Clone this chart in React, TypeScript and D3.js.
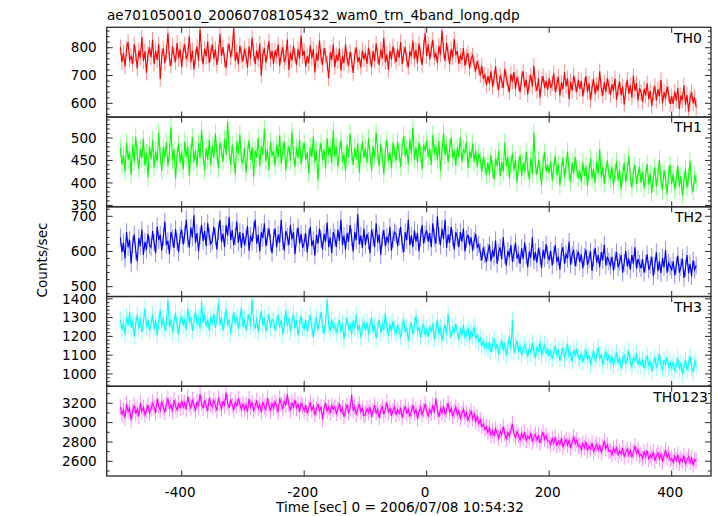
import React from "react";
import * as d3 from "d3";

const TITLE = "ae701050010_20060708105432_wam0_trn_4band_long.qdp";
const X_LABEL = "Time [sec] 0 = 2006/07/08 10:54:32";
const Y_LABEL = "Counts/sec";
const T_START = -500;
const T_STEP = 2.5;
const X_DOMAIN = [-522.4, 464.2];
const X_TICKS = [-400, -200, 0, 200, 400];

const BANDS = ["TH0", "TH1", "TH2", "TH3", "TH0123"];

const TH0 = [
  802, 748, 781, 733, 795, 820, 757, 769, 741, 812, 778, 725, 790, 764, 838, 752, 787, 710, 776, 801,
  765, 829, 742, 790, 756, 812, 688, 771, 797, 745, 783, 852, 760, 734, 805, 772, 749, 818, 761, 795,
  730, 787, 812, 759, 776, 841, 748, 790, 722, 768, 804, 753, 866, 781, 740, 796, 769, 823, 745, 778,
  812, 761, 795, 738, 779, 849, 770, 802, 756, 727, 789, 814, 765, 798, 871, 752, 784, 740, 808, 775,
  751, 796, 770, 728, 805, 762, 836, 779, 741, 790, 757, 815, 700, 774, 798, 746, 782, 823, 760, 789,
  742, 790, 768, 812, 735, 776, 801, 748, 765, 829, 720, 782, 754, 806, 770, 738, 795, 760, 843, 771,
  788, 732, 770, 745, 809, 762, 795, 711, 780, 753, 826, 767, 738, 799, 772, 745, 690, 783, 757, 812,
  730, 774, 752, 798, 718, 769, 745, 812, 760, 736, 785, 755, 709, 772, 801, 748, 766, 729, 790, 758,
  781, 742, 800, 765, 729, 788, 752, 815, 770, 738, 794, 761, 836, 748, 776, 720, 789, 758, 805, 772,
  748, 795, 763, 820, 741, 778, 802, 755, 730, 787, 768, 826, 759, 792, 744, 815, 775, 738, 800, 852,
  770, 812, 758, 795, 828, 763, 781, 745, 807, 776, 862, 790, 752, 818, 779, 740, 796, 765, 831, 774,
  788, 742, 771, 756, 799, 735, 766, 780, 725, 758, 772, 740, 715, 752, 728, 700, 735, 688, 702, 665,
  698, 672, 715, 660, 690, 733, 675, 648, 701, 682, 655, 724, 690, 668, 640, 705, 678, 712, 652, 694,
  671, 640, 690, 715, 658, 685, 632, 676, 702, 660, 735, 668, 645, 690, 620, 672, 698, 655, 681, 648,
  690, 655, 672, 708, 640, 668, 695, 628, 675, 650, 712, 662, 690, 615, 678, 645, 700, 668, 640, 685,
  652, 680, 625, 665, 698, 640, 672, 610, 658, 688, 634, 667, 645, 715, 655, 628, 676, 640, 690, 660,
  630, 668, 645, 690, 612, 652, 678, 628, 660, 595, 648, 685, 635, 665, 620, 700, 645, 672, 610, 655,
  640, 605, 652, 628, 672, 615, 645, 590, 638, 662, 610, 650, 625, 685, 600, 640, 618, 660, 632, 598,
  625, 598, 642, 610, 655, 580, 628, 612, 665, 595, 630, 570, 618, 640, 600, 622, 585,
];

const TH1 = [
  478, 441, 462, 425, 490, 452, 470, 418, 485, 447, 503, 462, 431, 476, 455, 498, 439, 466, 412, 482,
  452, 495, 433, 470, 448, 512, 461, 427, 480, 456, 491, 438, 468, 524, 450, 475, 409, 463, 488, 445,
  470, 430, 492, 458, 481, 415, 466, 502, 447, 473, 436, 489, 455, 518, 462, 428, 477, 451, 496, 440,
  483, 456, 510, 468, 432, 489, 474, 447, 498, 462, 537, 471, 440, 485, 458, 420, 492, 465, 508, 452,
  445, 478, 422, 466, 495, 451, 480, 414, 472, 456, 500, 437, 482, 463, 520, 448, 475, 429, 491, 460,
  472, 438, 485, 456, 506, 443, 470, 492, 428, 465, 481, 449, 515, 462, 436, 478, 455, 497, 441, 469,
  490, 452, 467, 421, 480, 458, 503, 446, 472, 405, 468, 489, 451, 475, 432, 499, 463, 480, 444, 517,
  458, 481, 436, 470, 495, 447, 463, 426, 485, 458, 510, 469, 440, 478, 452, 488, 423, 466, 492, 455,
  478, 445, 499, 463, 428, 482, 455, 512, 470, 437, 486, 459, 420, 473, 496, 448, 468, 432, 490, 466,
  450, 492, 468, 436, 481, 505, 459, 477, 441, 498, 465, 523, 452, 479, 445, 490, 467, 430, 486, 471,
  495, 458, 476, 440, 507, 466, 482, 450, 493, 427, 470, 512, 461, 485, 446, 477, 500, 455, 472, 438,
  480, 458, 501, 447, 475, 466, 492, 433, 470, 455, 488, 447, 472, 436, 465, 452, 425, 458, 440, 418,
  445, 420, 462, 430, 408, 455, 438, 472, 415, 447, 425, 490, 436, 458, 410, 442, 466, 428, 452, 402,
  438, 462, 415, 445, 426, 470, 432, 408, 455, 420, 512, 440, 418, 452, 430, 395, 446, 468, 425, 440,
  422, 448, 405, 435, 460, 418, 442, 395, 430, 456, 412, 438, 470, 425, 402, 445, 420, 458, 432, 410,
  428, 402, 446, 415, 438, 392, 425, 455, 410, 432, 400, 448, 420, 475, 412, 436, 398, 428, 450, 418,
  410, 436, 395, 422, 448, 405, 430, 385, 418, 445, 402, 428, 460, 412, 390, 425, 440, 398, 420, 435,
  400, 425, 388, 415, 442, 396, 420, 378, 412, 435, 392, 418, 452, 405, 385, 428, 410, 375, 420, 440,
  398, 420, 385, 410, 438, 392, 415, 372, 405, 430, 390, 412, 448, 395, 380, 418, 402,
];

const TH2 = [
  640, 598, 625, 580, 655, 612, 633, 566, 620, 648, 601, 572, 638, 615, 662, 590, 627, 605, 650, 618,
  612, 658, 625, 595, 671, 632, 648, 603, 640, 685, 618, 630, 592, 655, 637, 610, 664, 628, 598, 645,
  662, 620, 648, 690, 635, 612, 668, 640, 703, 625, 652, 600, 645, 676, 630, 658, 615, 681, 642, 622,
  630, 670, 642, 605, 658, 690, 628, 650, 612, 675, 645, 698, 632, 660, 618, 642, 685, 625, 655, 610,
  652, 618, 640, 672, 602, 645, 628, 660, 690, 622, 648, 600, 655, 638, 680, 615, 642, 665, 625, 595,
  640, 665, 612, 648, 625, 690, 630, 602, 658, 642, 618, 675, 635, 655, 592, 640, 668, 622, 650, 610,
  625, 652, 598, 640, 670, 615, 632, 588, 648, 622, 665, 635, 605, 650, 628, 682, 612, 640, 595, 655,
  640, 612, 662, 630, 690, 618, 645, 605, 652, 628, 675, 640, 600, 655, 632, 706, 620, 645, 610, 665,
  618, 650, 630, 595, 662, 640, 612, 680, 625, 648, 590, 638, 660, 615, 642, 625, 670, 602, 635, 655,
  650, 615, 642, 670, 620, 598, 655, 632, 690, 618, 645, 612, 660, 628, 652, 600, 640, 675, 622, 648,
  660, 628, 652, 612, 680, 640, 622, 700, 645, 618, 665, 635, 690, 610, 648, 625, 670, 638, 605, 655,
  640, 612, 655, 628, 665, 600, 635, 648, 618, 640, 602, 630, 650, 612, 620, 598, 575, 612, 590, 570,
  598, 620, 572, 605, 585, 632, 565, 598, 612, 578, 640, 590, 560, 602, 585, 618, 570, 595, 625, 580,
  592, 565, 610, 578, 625, 590, 555, 600, 582, 640, 575, 598, 568, 610, 588, 552, 605, 580, 620, 590,
  575, 602, 560, 590, 618, 570, 585, 548, 598, 612, 565, 592, 580, 628, 562, 590, 605, 558, 582, 600,
  570, 592, 552, 585, 605, 562, 578, 600, 545, 582, 610, 568, 590, 555, 598, 575, 620, 560, 585, 572,
  560, 585, 545, 575, 598, 555, 570, 590, 540, 568, 602, 558, 580, 548, 590, 565, 612, 552, 578, 565,
  552, 578, 540, 565, 592, 548, 562, 585, 530, 560, 598, 545, 572, 538, 582, 555, 604, 540, 568, 558,
  548, 572, 532, 560, 588, 540, 556, 580, 525, 552, 590, 538, 565, 530, 575, 548, 560,
];

const TH3 = [
  1290, 1235, 1272, 1210, 1305, 1258, 1330, 1245, 1282, 1198, 1265, 1318, 1240, 1296, 1222, 1275, 1350, 1250, 1288, 1228,
  1262, 1315, 1238, 1290, 1205, 1278, 1340, 1255, 1300, 1230, 1268, 1395, 1248, 1292, 1220, 1275, 1325, 1260, 1212, 1285,
  1310, 1258, 1292, 1235, 1350, 1275, 1302, 1228, 1280, 1335, 1262, 1298, 1240, 1385, 1270, 1315, 1250, 1290, 1232, 1305,
  1268, 1320, 1245, 1296, 1380, 1262, 1300, 1230, 1285, 1345, 1258, 1292, 1215, 1278, 1330, 1265, 1305, 1240, 1288, 1355,
  1250, 1295, 1232, 1278, 1320, 1255, 1395, 1268, 1240, 1302, 1222, 1285, 1335, 1260, 1298, 1228, 1276, 1318, 1245, 1290,
  1285, 1230, 1272, 1315, 1248, 1290, 1210, 1265, 1340, 1255, 1298, 1225, 1275, 1320, 1242, 1288, 1205, 1262, 1310, 1250,
  1240, 1288, 1225, 1270, 1312, 1248, 1195, 1265, 1300, 1235, 1282, 1330, 1255, 1215, 1275, 1395, 1260, 1230, 1292, 1245,
  1262, 1218, 1255, 1290, 1225, 1270, 1185, 1248, 1302, 1235, 1268, 1210, 1285, 1242, 1318, 1230, 1260, 1195, 1252, 1275,
  1230, 1275, 1212, 1258, 1300, 1225, 1262, 1190, 1245, 1290, 1218, 1270, 1235, 1325, 1248, 1205, 1265, 1228, 1280, 1240,
  1215, 1262, 1228, 1195, 1255, 1290, 1220, 1248, 1175, 1238, 1275, 1210, 1258, 1312, 1225, 1250, 1195, 1242, 1268, 1205,
  1240, 1198, 1255, 1222, 1270, 1185, 1232, 1290, 1210, 1248, 1175, 1228, 1262, 1205, 1318, 1235, 1195, 1250, 1220, 1265,
  1225, 1182, 1240, 1205, 1262, 1190, 1218, 1245, 1175, 1230, 1200, 1255, 1185, 1212, 1168, 1195, 1150, 1178, 1140, 1160,
  1135, 1172, 1118, 1155, 1190, 1128, 1160, 1105, 1148, 1182, 1125, 1165, 1098, 1140, 1205, 1130, 1290, 1112, 1150, 1178,
  1118, 1152, 1100, 1135, 1155, 1125, 1092, 1140, 1110, 1168, 1122, 1085, 1145, 1115, 1172, 1098, 1130, 1160, 1105, 1138,
  1092, 1125, 1080, 1115, 1148, 1098, 1130, 1070, 1108, 1140, 1085, 1120, 1160, 1095, 1112, 1065, 1128, 1100, 1135, 1088,
  1078, 1110, 1062, 1095, 1130, 1075, 1102, 1050, 1088, 1125, 1068, 1098, 1140, 1080, 1105, 1045, 1092, 1120, 1070, 1100,
  1060, 1095, 1045, 1080, 1115, 1055, 1088, 1030, 1072, 1105, 1050, 1082, 1125, 1062, 1040, 1090, 1070, 1108, 1048, 1078,
  1045, 1078, 1028, 1062, 1098, 1040, 1070, 1012, 1055, 1088, 1035, 1065, 1110, 1048, 1022, 1075, 1052, 1090, 1030, 1060,
  1032, 1065, 1015, 1050, 1085, 1025, 1058, 1000, 1042, 1075, 1020, 1052, 1095, 1035, 1010, 1062, 1040,
];

const TH0123 = [
  3160, 3085, 3132, 3050, 3195, 3110, 3148, 3025, 3120, 3178, 3092, 3140, 3062, 3205, 3115, 3158, 3080, 3128, 3182, 3100,
  3140, 3210, 3155, 3098, 3245, 3170, 3128, 3220, 3160, 3105, 3192, 3250, 3140, 3185, 3115, 3235, 3172, 3130, 3205, 3150,
  3225, 3160, 3205, 3138, 3270, 3190, 3152, 3240, 3185, 3120, 3218, 3165, 3295, 3200, 3148, 3232, 3175, 3120, 3255, 3190,
  3165, 3230, 3178, 3125, 3260, 3195, 3145, 3222, 3170, 3310, 3205, 3150, 3240, 3180, 3128, 3218, 3168, 3250, 3190, 3140,
  3200, 3135, 3182, 3110, 3245, 3160, 3205, 3125, 3170, 3230, 3145, 3188, 3102, 3215, 3165, 3132, 3255, 3175, 3120, 3198,
  3150, 3215, 3168, 3110, 3255, 3190, 3140, 3228, 3175, 3295, 3180, 3125, 3210, 3160, 3235, 3145, 3195, 3110, 3200, 3170,
  3120, 3182, 3095, 3150, 3210, 3130, 3172, 3078, 3140, 3195, 3115, 3165, 3030, 3152, 3205, 3118, 3160, 3098, 3178, 3135,
  3165, 3095, 3140, 3200, 3112, 3155, 3060, 3130, 3185, 3105, 3145, 3290, 3120, 3168, 3085, 3142, 3195, 3110, 3150, 3072,
  3090, 3145, 3105, 3160, 3060, 3125, 3180, 3098, 3140, 3050, 3118, 3172, 3085, 3135, 3210, 3102, 3148, 3070, 3125, 3165,
  3080, 3135, 3095, 3155, 3050, 3118, 3170, 3090, 3140, 3062, 3115, 3180, 3098, 3135, 3040, 3110, 3160, 3085, 3128, 3195,
  3120, 3070, 3135, 3095, 3180, 3105, 3250, 3125, 3060, 3145, 3098, 3170, 3082, 3130, 3205, 3100, 3148, 3065, 3118, 3160,
  3080, 3120, 3045, 3095, 3140, 3060, 3102, 3025, 3075, 3118, 3040, 3088, 3010, 3060, 2990, 3030, 2960, 2985, 2930, 2955,
  2900, 2945, 2870, 2915, 2860, 2935, 2890, 2840, 2910, 2875, 2960, 2885, 2830, 2900, 2862, 2920, 2990, 2880, 2845, 2905,
  2860, 2820, 2885, 2840, 2900, 2815, 2862, 2835, 2895, 2800, 2850, 2878, 2820, 2870, 2790, 2845, 2902, 2825, 2865, 2810,
  2810, 2770, 2835, 2790, 2850, 2760, 2808, 2775, 2840, 2745, 2795, 2825, 2768, 2815, 2740, 2798, 2855, 2780, 2820, 2755,
  2765, 2720, 2785, 2740, 2800, 2710, 2758, 2725, 2790, 2695, 2745, 2775, 2715, 2768, 2690, 2750, 2808, 2730, 2770, 2705,
  2710, 2672, 2735, 2690, 2750, 2660, 2708, 2675, 2740, 2645, 2695, 2728, 2665, 2715, 2640, 2700, 2758, 2680, 2720, 2655,
  2672, 2630, 2695, 2650, 2710, 2620, 2668, 2635, 2700, 2605, 2655, 2688, 2625, 2675, 2598, 2660, 2715, 2640, 2680, 2612,
  2630, 2590, 2655, 2610, 2668, 2580, 2625, 2598, 2660, 2565, 2615, 2648, 2585, 2635, 2560, 2620, 2600,
];

const SERIES = [TH0, TH1, TH2, TH3, TH0123];
const ERRORS = [28, 20, 25, 45, 80];
const COLORS = ["#ff0000", "#00ff00", "#0000ff", "#00ffff", "#ff00ff"];
const Y_DOMAINS = [
  [550.7, 873.4],
  [347, 546.5],
  [472, 727],
  [934.5, 1412.4],
  [2448, 3376],
];
const Y_TICKS = [
  [600, 700, 800],
  [350, 400, 450, 500],
  [500, 600, 700],
  [1000, 1100, 1200, 1300, 1400],
  [2600, 2800, 3000, 3200],
];
const Y_MINOR = [20, 10, 20, 20, 100];
const LABEL_RIGHT = [702, 702, 703, 702, 708];

const W = 717;
const H = 516;
const LEFT = 106.7;
const RIGHT = 711;
const TOP = 27.3;
const BOTTOM = 476;
const FONT = "'DejaVu Sans', sans-serif";
const FS = 13.6;
const FRAME = "#2a2a2a";

export default function App() {
  const ph = (BOTTOM - TOP) / BANDS.length;
  const x = d3.scaleLinear().domain(X_DOMAIN).range([LEFT, RIGHT]);

  const panels = BANDS.map((name, p) => {
    const y0 = TOP + p * ph;
    const y = d3.scaleLinear().domain(Y_DOMAINS[p]).range([y0 + ph, y0]);
    const data = SERIES[p];
    const err = ERRORS[p];
    const line = d3
      .line<number>()
      .x((_, i) => x(T_START + i * T_STEP))
      .y((v) => y(v));
    const errPath = data
      .map((v, i) => {
        const xx = x(T_START + i * T_STEP);
        return `M${xx.toFixed(2)},${y(v - err).toFixed(2)}V${y(v + err).toFixed(2)}`;
      })
      .join("");
    const [d0, d1] = Y_DOMAINS[p];
    const minors: number[] = [];
    for (let v = Math.ceil(d0 / Y_MINOR[p]) * Y_MINOR[p]; v <= d1; v += Y_MINOR[p]) {
      if (!Y_TICKS[p].includes(v)) minors.push(v);
    }
    const clipId = `clip${p}`;
    return (
      <g key={name}>
        <defs>
          <clipPath id={clipId}>
            <rect x={LEFT} y={y0} width={RIGHT - LEFT} height={ph} />
          </clipPath>
        </defs>
        <g clipPath={`url(#${clipId})`}>
          <path d={errPath} stroke={COLORS[p]} strokeOpacity={0.45} strokeWidth={1} fill="none" />
          <path d={line(data) || ""} stroke={COLORS[p]} strokeWidth={1.15} fill="none" />
        </g>
        {Y_TICKS[p].map((v) => (
          <g key={`t${v}`}>
            <line x1={LEFT} x2={LEFT + 6} y1={y(v)} y2={y(v)} stroke={FRAME} strokeWidth={1} />
            <line x1={RIGHT - 6} x2={RIGHT} y1={y(v)} y2={y(v)} stroke={FRAME} strokeWidth={1} />
            <text
              x={96.7}
              y={y(v) + 4.7}
              textAnchor="end"
              fontFamily={FONT}
              fontSize={FS}
              fill="#000"
            >
              {v}
            </text>
          </g>
        ))}
        {minors.map((v) => (
          <g key={`m${v}`}>
            <line x1={LEFT} x2={LEFT + 3} y1={y(v)} y2={y(v)} stroke={FRAME} strokeWidth={1} />
            <line x1={RIGHT - 3} x2={RIGHT} y1={y(v)} y2={y(v)} stroke={FRAME} strokeWidth={1} />
          </g>
        ))}
        {X_TICKS.map((t) => (
          <g key={`x${t}`}>
            <line x1={x(t)} x2={x(t)} y1={y0} y2={y0 + 5.5} stroke={FRAME} strokeWidth={1} />
            <line x1={x(t)} x2={x(t)} y1={y0 + ph - 5.5} y2={y0 + ph} stroke={FRAME} strokeWidth={1} />
          </g>
        ))}
        <rect
          x={LEFT}
          y={y0}
          width={RIGHT - LEFT}
          height={ph}
          fill="none"
          stroke={FRAME}
          strokeWidth={1.3}
        />
        <text
          x={LABEL_RIGHT[p]}
          y={y0 + 15.4}
          textAnchor="end"
          fontFamily={FONT}
          fontSize={14}
          fill="#000"
        >
          {name}
        </text>
      </g>
    );
  });

  return (
    <svg
      width={W}
      height={H}
      style={{ position: "absolute", left: 0, top: 0, background: "#fff" }}
    >
      <rect x={0} y={0} width={W} height={H} fill="#fff" />
      <text x={107} y={20.3} fontFamily={FONT} fontSize={FS} fill="#000">
        {TITLE}
      </text>
      {panels}
      {X_TICKS.map((t) => (
        <text
          key={`xl${t}`}
          x={x(t) - 1.5}
          y={496.5}
          textAnchor="middle"
          fontFamily={FONT}
          fontSize={FS}
          fill="#000"
        >
          {t < 0 ? `-${Math.abs(t)}` : `${t}`}
        </text>
      ))}
      <text x={276} y={511.5} fontFamily={FONT} fontSize={FS} fill="#000">
        {X_LABEL}
      </text>
      <text
        transform="translate(46.5,260) rotate(-90)"
        textAnchor="middle"
        fontFamily={FONT}
        fontSize={FS}
        fill="#000"
      >
        {Y_LABEL}
      </text>
    </svg>
  );
}
